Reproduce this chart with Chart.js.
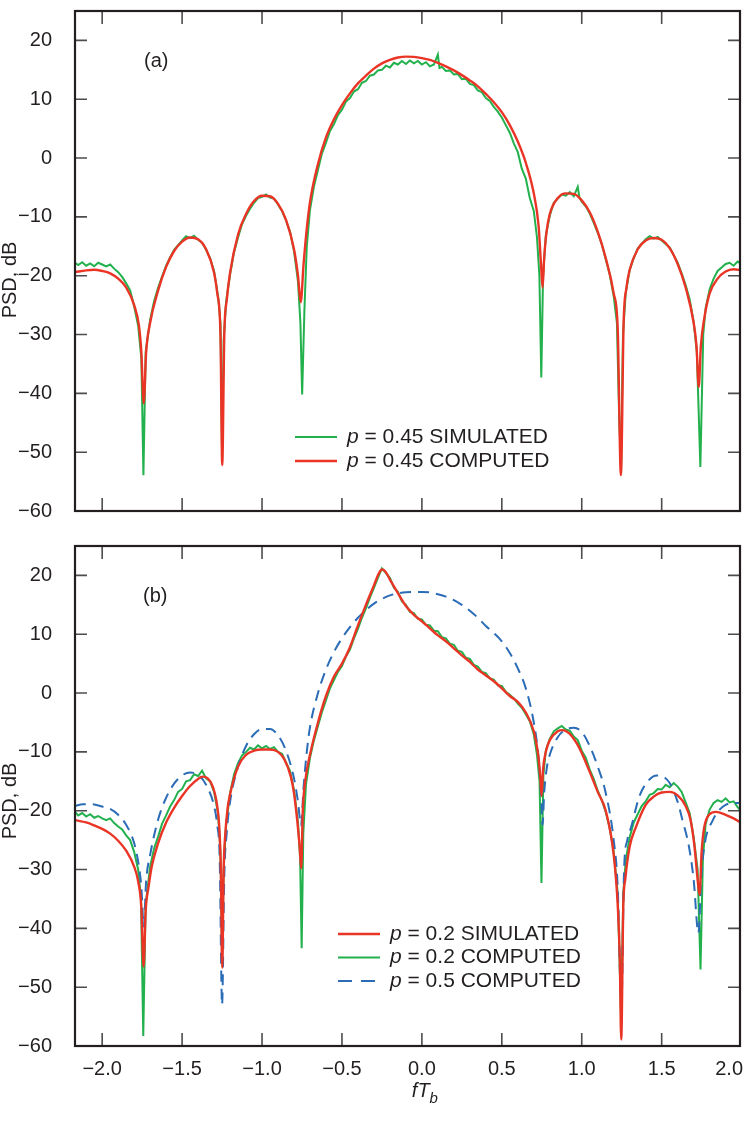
<!DOCTYPE html>
<html lang="en">
<head>
<meta charset="UTF-8" />
<title>PSD comparison</title>
<script src="https://cdn.jsdelivr.net/npm/chart.js@4.4.1/dist/chart.umd.min.js"></script>
<style>
  body { margin: 0; background: #fff; width: 744px; height: 1123px; position: relative; overflow: hidden; }
  canvas { position: absolute; left: 0; }
  #panelA { top: 0; width: 744px; height: 530px; }
  #panelB { top: 530px; width: 744px; height: 593px; }
</style>
</head>
<body>
<canvas id="panelA" width="744" height="530"></canvas>
<canvas id="panelB" width="744" height="593"></canvas>
<script>
// axis ranges and tick values
const xRange = [-2.17, 1.99];
const yRange = [-60, 25];
const xTickValues = [-2, -1.5, -1, -0.5, 0, 0.5, 1, 1.5, 2];
const yTickValues = [-60, -50, -40, -30, -20, -10, 0, 10, 20];

// (a) p = 0.45, [fTb, dB]
const simA = [
  [-2.17,-17.8],[-2.15,-18.2],[-2.125,-17.7],[-2.1,-18.3],[-2.075,-17.9],[-2.05,-18.4],[-2.025,-17.8],
  [-2.0,-18.1],[-1.975,-18.4],[-1.95,-18.1],[-1.925,-18.8],[-1.9,-19.4],[-1.875,-20.2],[-1.85,-21.3],
  [-1.825,-22.5],[-1.8,-25.2],[-1.775,-28.5],[-1.755,-34],[-1.742,-53.9],[-1.728,-33],[-1.7,-27.5],
  [-1.675,-24.3],[-1.65,-22.0],[-1.625,-20.1],[-1.6,-18.3],[-1.575,-16.9],[-1.55,-15.6],[-1.525,-14.8],
  [-1.5,-14.0],[-1.475,-13.3],[-1.45,-13.6],[-1.425,-13.2],[-1.4,-13.9],[-1.375,-14.4],[-1.35,-15.6],
  [-1.325,-17.0],[-1.3,-19.2],[-1.275,-23.5],[-1.26,-28],[-1.25,-50],[-1.24,-31],[-1.225,-24.5],
  [-1.2,-19.8],[-1.175,-16.0],[-1.15,-13.5],[-1.125,-11.2],[-1.1,-9.8],[-1.075,-8.6],[-1.05,-7.6],
  [-1.025,-6.8],[-1.0,-6.6],[-0.975,-6.2],[-0.95,-6.7],[-0.925,-6.9],[-0.9,-7.9],[-0.875,-9.0],
  [-0.85,-10.6],[-0.825,-12.5],[-0.8,-15.8],[-0.775,-21],[-0.76,-28],[-0.749,-40.2],[-0.735,-26],
  [-0.72,-15],[-0.7,-8.8],[-0.675,-4.8],[-0.65,-2.0],[-0.625,0.8],[-0.6,2.6],[-0.575,4.6],[-0.55,5.8],
  [-0.525,7.3],[-0.5,8.2],[-0.475,9.6],[-0.45,10.2],[-0.425,11.3],[-0.4,11.7],[-0.375,12.8],[-0.35,13.1],
  [-0.325,14.0],[-0.3,14.2],[-0.275,14.9],[-0.25,15.0],[-0.225,15.7],[-0.2,15.4],[-0.175,16.2],
  [-0.15,15.9],[-0.125,16.5],[-0.1,16.0],[-0.075,16.6],[-0.05,16.1],[-0.025,16.5],[0,15.9],[0.025,16.3],
  [0.05,15.6],[0.075,15.9],[0.1,17.6],[0.11,15.3],[0.125,15.5],[0.15,14.8],[0.175,14.9],[0.2,14.2],
  [0.225,14.3],[0.25,13.4],[0.275,13.5],[0.3,12.6],[0.325,12.4],[0.35,11.5],[0.375,11.2],[0.4,10.2],
  [0.425,9.7],[0.45,8.7],[0.475,7.9],[0.5,6.9],[0.525,5.6],[0.55,4.3],[0.575,2.5],[0.6,1.0],
  [0.625,-1.8],[0.65,-3.5],[0.675,-6.8],[0.7,-9.0],[0.72,-13.5],[0.735,-20],[0.747,-37.3],[0.758,-20],
  [0.775,-13.2],[0.8,-9.8],[0.825,-7.6],[0.85,-6.9],[0.875,-6.2],[0.9,-6.4],[0.925,-5.8],[0.95,-6.5],
  [0.975,-4.9],[0.985,-6.6],[1.0,-7.4],[1.025,-8.2],[1.05,-9.4],[1.075,-11.0],[1.1,-12.7],[1.125,-14.6],
  [1.15,-17.2],[1.175,-19.8],[1.2,-23.5],[1.22,-28],[1.235,-45],[1.246,-52],[1.258,-30],[1.275,-23],
  [1.3,-19.0],[1.325,-17.0],[1.35,-15.4],[1.375,-14.6],[1.4,-13.8],[1.425,-13.3],[1.45,-13.7],
  [1.475,-13.4],[1.5,-14.0],[1.525,-14.6],[1.55,-15.2],[1.575,-16.5],[1.6,-17.8],[1.625,-19.6],
  [1.65,-21.6],[1.675,-24.0],[1.7,-27.8],[1.72,-33],[1.742,-52.5],[1.76,-30],[1.775,-25.5],[1.8,-22.3],
  [1.825,-20.5],[1.85,-19.2],[1.875,-18.6],[1.9,-18.0],[1.925,-17.8],[1.95,-18.3],[1.975,-17.6],[2.0,-18.0]
];
const compA = [
  [-2.17,-19.4],[-2.1,-19.1],[-2.05,-19.0],[-2.0,-19.2],[-1.95,-19.6],[-1.9,-20.5],[-1.85,-22.0],
  [-1.8,-25.0],[-1.77,-28.5],[-1.755,-33],[-1.74,-41.7],[-1.725,-33],[-1.7,-28],[-1.65,-22.5],
  [-1.6,-18.5],[-1.55,-15.8],[-1.5,-14.2],[-1.45,-13.5],[-1.4,-13.8],[-1.35,-15.5],[-1.3,-19.5],
  [-1.28,-23],[-1.26,-30],[-1.249,-52.2],[-1.236,-30],[-1.22,-24],[-1.2,-19.5],[-1.15,-13],[-1.1,-9.5],
  [-1.05,-7.3],[-1.0,-6.4],[-0.95,-6.5],[-0.9,-7.8],[-0.85,-10.5],[-0.8,-15.5],[-0.775,-20],
  [-0.758,-24.5],[-0.74,-18],[-0.72,-12],[-0.7,-7.5],[-0.65,-1],[-0.6,3.5],[-0.55,6.6],[-0.5,9],
  [-0.45,11],[-0.4,12.7],[-0.35,14],[-0.3,15.2],[-0.25,16.1],[-0.2,16.7],[-0.15,17.1],[-0.1,17.25],
  [-0.05,17.2],[0,17.0],[0.05,16.7],[0.1,16.2],[0.15,15.6],[0.2,14.9],[0.25,14.1],[0.3,13.2],
  [0.35,12.2],[0.4,10.9],[0.45,9.5],[0.5,7.8],[0.55,5.6],[0.6,2.8],[0.65,-0.8],[0.7,-6],[0.73,-11.5],
  [0.745,-18],[0.755,-22],[0.765,-17],[0.78,-12.5],[0.8,-9.5],[0.85,-6.8],[0.9,-6.0],[0.95,-6.1],
  [1.0,-7.2],[1.05,-9.2],[1.1,-12.5],[1.15,-17],[1.2,-23],[1.225,-29],[1.245,-53.9],[1.262,-28],
  [1.28,-22],[1.3,-19],[1.35,-15.5],[1.4,-14.0],[1.45,-13.6],[1.5,-13.9],[1.55,-15.3],[1.6,-18],
  [1.65,-22],[1.7,-28],[1.718,-32],[1.732,-38.9],[1.745,-32],[1.765,-27.5],[1.8,-23],[1.85,-20.5],
  [1.9,-19.3],[1.95,-18.9],[2.0,-19.1]
];

// (b) p = 0.2 and p = 0.5
const simB = [
  [-2.17,-21.6],[-2.1,-22.0],[-2.05,-22.5],[-2.0,-23.1],[-1.95,-23.9],[-1.9,-25.1],[-1.85,-26.8],
  [-1.8,-29.5],[-1.775,-32],[-1.755,-36.5],[-1.741,-46.5],[-1.728,-37],[-1.71,-33],[-1.69,-29.5],
  [-1.65,-25.5],[-1.6,-22],[-1.55,-19.5],[-1.5,-17.5],[-1.45,-15.8],[-1.4,-14.6],[-1.37,-14.2],
  [-1.34,-14.5],[-1.31,-15.8],[-1.28,-19.3],[-1.265,-24],[-1.257,-31],[-1.249,-46.7],[-1.24,-30],
  [-1.23,-24],[-1.215,-19.5],[-1.2,-17.2],[-1.15,-12.5],[-1.1,-10.5],[-1.05,-9.8],[-1.0,-9.6],
  [-0.95,-9.6],[-0.9,-10.0],[-0.86,-11.3],[-0.82,-14.2],[-0.8,-17],[-0.78,-21.6],[-0.765,-26],
  [-0.755,-29.8],[-0.745,-20],[-0.73,-15],[-0.7,-10.5],[-0.65,-5],[-0.6,-0.5],[-0.55,2.8],[-0.5,5.0],
  [-0.45,7.8],[-0.4,11.5],[-0.35,15],[-0.3,18.3],[-0.27,20.3],[-0.25,21.0],[-0.23,20.7],[-0.2,19.3],
  [-0.15,17],[-0.1,14.8],[-0.05,13.3],[0,12.2],[0.05,11.0],[0.1,9.8],[0.15,8.8],[0.2,7.6],[0.25,6.4],
  [0.3,5.3],[0.35,4.0],[0.4,3.0],[0.45,2.0],[0.5,0.8],[0.55,-0.5],[0.6,-1.5],[0.65,-3.3],[0.7,-6.5],
  [0.725,-10],[0.74,-14],[0.749,-17.5],[0.758,-13],[0.775,-10],[0.8,-8],[0.85,-6.5],[0.88,-6.3],
  [0.92,-6.8],[0.97,-8.6],[1.0,-10.2],[1.05,-13.4],[1.1,-16.8],[1.15,-20],[1.2,-27.5],[1.225,-36],
  [1.238,-45],[1.247,-58.9],[1.26,-36],[1.272,-31.7],[1.3,-26.1],[1.34,-22.7],[1.4,-19.0],
  [1.45,-17.6],[1.5,-16.9],[1.55,-16.8],[1.6,-17.4],[1.65,-19.2],[1.68,-21.5],[1.705,-26],
  [1.725,-31.7],[1.737,-34.3],[1.75,-27],[1.765,-23],[1.8,-20.6],[1.84,-20.2],[1.9,-20.7],
  [1.95,-21.3],[2.0,-22.1]
];
const compB = [
  [-2.17,-20.2],[-2.15,-20.8],[-2.125,-20.4],[-2.1,-21.0],[-2.075,-20.6],[-2.05,-21.2],[-2.025,-20.9],
  [-2.0,-21.3],[-1.975,-21.6],[-1.95,-21.3],[-1.925,-22.1],[-1.9,-22.7],[-1.875,-23.2],[-1.85,-24.2],
  [-1.825,-25.0],[-1.8,-27.0],[-1.775,-30.0],[-1.757,-35],[-1.743,-58.3],[-1.728,-36],[-1.7,-29.5],
  [-1.675,-26.4],[-1.65,-24.4],[-1.625,-22.2],[-1.6,-20.8],[-1.575,-19.3],[-1.55,-18.2],[-1.525,-16.8],
  [-1.5,-16.3],[-1.475,-15.0],[-1.45,-14.8],[-1.425,-13.8],[-1.4,-14.1],[-1.375,-13.2],[-1.35,-14.5],
  [-1.325,-15.0],[-1.3,-16.8],[-1.275,-20.5],[-1.26,-27],[-1.25,-45],[-1.24,-30],[-1.225,-22.5],
  [-1.2,-17.0],[-1.175,-13.8],[-1.15,-11.9],[-1.125,-10.6],[-1.1,-10.0],[-1.075,-9.3],[-1.05,-9.6],
  [-1.025,-8.9],[-1.0,-9.4],[-0.975,-9.0],[-0.95,-9.5],[-0.925,-9.2],[-0.9,-10.0],[-0.875,-10.3],
  [-0.85,-11.8],[-0.825,-13.2],[-0.8,-16.5],[-0.775,-22],[-0.762,-28],[-0.752,-43.4],[-0.742,-24],
  [-0.725,-15.5],[-0.7,-11.0],[-0.675,-8.0],[-0.65,-5.6],[-0.625,-3.2],[-0.6,-1.2],[-0.575,0.8],
  [-0.55,2.2],[-0.525,3.6],[-0.5,4.6],[-0.475,6.2],[-0.45,7.4],[-0.425,9.3],[-0.4,10.9],[-0.375,12.8],
  [-0.35,14.4],[-0.325,16.2],[-0.3,17.9],[-0.275,19.6],[-0.25,21.2],[-0.225,20.4],[-0.2,19.6],
  [-0.175,17.9],[-0.15,17.2],[-0.125,15.6],[-0.1,15.0],[-0.075,13.8],[-0.05,13.6],[-0.025,12.6],
  [0,12.5],[0.025,11.6],[0.05,11.5],[0.075,10.6],[0.1,10.5],[0.125,9.5],[0.15,9.3],[0.175,8.4],
  [0.2,8.2],[0.225,7.2],[0.25,7.0],[0.275,6.0],[0.3,5.8],[0.325,4.8],[0.35,4.5],[0.375,3.6],[0.4,3.4],
  [0.425,2.5],[0.45,2.3],[0.475,1.3],[0.5,1.2],[0.525,0.2],[0.55,-0.3],[0.575,-0.9],[0.6,-1.8],
  [0.625,-2.5],[0.65,-3.6],[0.675,-4.8],[0.7,-7.0],[0.72,-10.5],[0.736,-15],[0.748,-32.3],[0.76,-14],
  [0.775,-9.8],[0.8,-7.8],[0.825,-6.5],[0.85,-6.0],[0.875,-5.6],[0.9,-6.2],[0.925,-6.4],[0.95,-7.4],
  [0.975,-8.0],[1.0,-9.8],[1.025,-11.0],[1.05,-13.0],[1.075,-14.6],[1.1,-16.6],[1.125,-18.2],
  [1.15,-20.2],[1.175,-23],[1.2,-27],[1.225,-34],[1.246,-55],[1.26,-34],[1.275,-28.5],[1.3,-24.5],
  [1.325,-22.0],[1.35,-20.6],[1.375,-19.2],[1.4,-18.4],[1.425,-17.3],[1.45,-17.0],[1.475,-16.3],
  [1.5,-16.4],[1.525,-15.6],[1.55,-16.0],[1.575,-15.3],[1.6,-15.9],[1.625,-16.8],[1.65,-18.6],
  [1.675,-20.4],[1.7,-24.5],[1.725,-30],[1.743,-47],[1.758,-28],[1.775,-22.3],[1.8,-19.8],[1.825,-18.7],
  [1.85,-18.2],[1.875,-18.5],[1.9,-17.9],[1.925,-18.6],[1.95,-18.4],[1.975,-19.4],[2.0,-20.2]
];
const comp05 = [
  [-2.17,-19.2],[-2.12,-18.9],[-2.06,-18.9],[-2.0,-19.3],[-1.95,-19.7],[-1.9,-20.7],[-1.85,-22.4],
  [-1.8,-25.5],[-1.77,-29.5],[-1.755,-33],[-1.74,-39.7],[-1.725,-32],[-1.7,-27.5],[-1.65,-21.5],
  [-1.6,-17.8],[-1.55,-15.4],[-1.5,-14.0],[-1.45,-13.5],[-1.4,-13.9],[-1.35,-15.6],[-1.3,-19.2],
  [-1.28,-22.5],[-1.265,-28],[-1.25,-53],[-1.236,-31],[-1.22,-23.5],[-1.2,-18.5],[-1.15,-12.5],
  [-1.1,-9.0],[-1.05,-7.0],[-1.0,-6.1],[-0.95,-6.1],[-0.9,-7.2],[-0.85,-9.8],[-0.8,-14.5],
  [-0.775,-18.5],[-0.756,-22.5],[-0.74,-16],[-0.72,-10],[-0.7,-5.8],[-0.65,0],[-0.6,4],[-0.55,7],
  [-0.5,9.3],[-0.45,11.2],[-0.4,12.8],[-0.35,14.1],[-0.3,15.2],[-0.25,16.0],[-0.2,16.6],[-0.15,16.95],
  [-0.1,17.15],[-0.05,17.2],[0,17.2],[0.05,17.1],[0.1,16.8],[0.15,16.4],[0.2,15.8],[0.25,15.0],
  [0.3,14.0],[0.35,12.8],[0.4,11.4],[0.45,10.2],[0.5,8.8],[0.55,6.8],[0.6,4.2],[0.65,0.8],[0.7,-5],
  [0.73,-11],[0.745,-17],[0.755,-22.4],[0.765,-17],[0.78,-13],[0.8,-10.5],[0.85,-7.5],[0.9,-6.2],
  [0.95,-5.9],[1.0,-6.6],[1.05,-9.0],[1.1,-12.5],[1.15,-17],[1.2,-25],[1.225,-33],[1.248,-53],
  [1.265,-30],[1.285,-25],[1.31,-22.7],[1.36,-17.6],[1.42,-14.8],[1.47,-14.0],[1.52,-14.4],
  [1.55,-15.3],[1.6,-18.5],[1.63,-21.6],[1.67,-26],[1.7,-31.7],[1.73,-40.8],[1.748,-31],[1.77,-25.5],
  [1.82,-21.6],[1.86,-19.9],[1.9,-19.0],[1.95,-18.7],[2.0,-18.7]
];

const textColor = '#231f20';
const fontFamily = '"Liberation Sans", Arial, Helvetica, sans-serif';
const toXY = arr => arr.map(p => ({ x: p[0], y: p[1] }));
const minus = s => s.replace('-', '\u2212');

// border + inward tick marks on all four sides, x tick labels kept inside the page
const framePlugin = {
  id: 'frame',
  afterDraw(chart, args, opts) {
    const { ctx, chartArea: a, scales: { x, y } } = chart;
    ctx.save();
    ctx.strokeStyle = '#4d4d4f';
    ctx.lineWidth = 1.6;
    ctx.beginPath();
    xTickValues.forEach(v => {
      const px = x.getPixelForValue(v);
      if (px <= a.left + 2 || px >= a.right - 2) return;
      ctx.moveTo(px, a.bottom); ctx.lineTo(px, a.bottom - 13);
      ctx.moveTo(px, a.top); ctx.lineTo(px, a.top + 13);
    });
    yTickValues.forEach(v => {
      const py = y.getPixelForValue(v);
      if (py <= a.top + 2 || py >= a.bottom - 2) return;
      ctx.moveTo(a.left, py); ctx.lineTo(a.left + 12, py);
      ctx.moveTo(a.right, py); ctx.lineTo(a.right - 12, py);
    });
    ctx.stroke();
    ctx.strokeStyle = textColor;
    ctx.lineWidth = 2.2;
    ctx.strokeRect(a.left, a.top, a.right - a.left, a.bottom - a.top);

    if (opts.xLabels) {
      ctx.fillStyle = textColor;
      ctx.font = '20px ' + fontFamily;
      ctx.textBaseline = 'middle';
      ctx.textAlign = 'left';
      xTickValues.forEach(v => {
        const txt = minus(v.toFixed(1));
        const w = ctx.measureText(txt).width;
        const left = Math.min(x.getPixelForValue(v) - w / 2, chart.width - w - 1);
        ctx.fillText(txt, left, a.bottom + 23);
      });
    }
    ctx.restore();
  }
};

// legend with italic "p", panel tag, axis titles
const notesPlugin = {
  id: 'notes',
  afterDraw(chart, args, opts) {
    const ctx = chart.ctx;
    ctx.save();
    ctx.fillStyle = textColor;
    ctx.textBaseline = 'middle';
    ctx.font = '20px ' + fontFamily;
    ctx.fillText(opts.tag, opts.tagX, opts.tagY);

    ctx.save();
    ctx.translate(10, opts.yTitleY);
    ctx.rotate(-Math.PI / 2);
    ctx.textAlign = 'center';
    ctx.fillText('PSD, dB', 0, 0);
    ctx.restore();

    opts.legend.forEach((idx, row) => {
      const ds = chart.data.datasets[idx];
      const yy = opts.legY + row * opts.legDy;
      ctx.strokeStyle = ds.borderColor;
      ctx.lineWidth = ds.borderWidth;
      ctx.setLineDash(ds.borderDash ? [14, 9] : []);
      ctx.beginPath();
      ctx.moveTo(opts.legX, yy);
      ctx.lineTo(opts.legX + 42, yy);
      ctx.stroke();
      ctx.setLineDash([]);
      let tx = opts.legX + 52;
      ctx.font = 'italic 21px ' + fontFamily;
      ctx.fillText(ds.label[0], tx, yy);
      tx += ctx.measureText(ds.label[0]).width;
      ctx.font = '21px ' + fontFamily;
      ctx.fillText(ds.label.slice(1), tx, yy);
    });
    if (opts.xTitle) {
      const cx = chart.scales.x.getPixelForValue(0) + 3;
      ctx.textBaseline = 'alphabetic';
      ctx.font = 'italic 20px ' + fontFamily;
      const w1 = ctx.measureText('fT').width;
      ctx.font = 'italic 15px ' + fontFamily;
      const w2 = ctx.measureText('b').width;
      const x0 = cx - (w1 + w2) / 2;
      ctx.font = 'italic 20px ' + fontFamily;
      ctx.fillText('fT', x0, opts.xTitleY);
      ctx.font = 'italic 15px ' + fontFamily;
      ctx.fillText('b', x0 + w1, opts.xTitleY + 6);
    }
    ctx.restore();
  }
};

function makePanel(id, datasets, cfg) {
  return new Chart(document.getElementById(id), {
    type: 'line',
    data: { datasets },
    options: {
      responsive: false,
      animation: false,
      devicePixelRatio: 1,
      layout: { padding: { top: cfg.padTop, right: 4, left: 0, bottom: 0 } },
      elements: { point: { radius: 0 }, line: { tension: 0 } },
      scales: {
        x: {
          type: 'linear', min: xRange[0], max: xRange[1],
          grid: { display: false }, border: { display: false },
          afterBuildTicks: s => { s.ticks = xTickValues.map(v => ({ value: v })); },
          afterFit: s => { s.height = cfg.xHeight; s.paddingLeft = 0; s.paddingRight = 0; },
          ticks: { display: false }
        },
        y: {
          min: yRange[0], max: yRange[1],
          grid: { display: false }, border: { display: false },
          afterBuildTicks: s => { s.ticks = yTickValues.map(v => ({ value: v })); },
          afterFit: s => { s.width = 75; s.paddingTop = 0; s.paddingBottom = 0; },
          ticks: {
            padding: 15, color: textColor,
            font: { family: fontFamily, size: 20 },
            callback: v => minus(String(v))
          }
        }
      },
      plugins: {
        legend: { display: false },
        tooltip: { enabled: false },
        frame: { xLabels: cfg.xLabels },
        notes: cfg.notes
      }
    },
    plugins: [framePlugin, notesPlugin]
  });
}

const red = '#ea3526', green = '#22b14c', blue = '#2b6cb6';

makePanel('panelA', [
  { label: 'p = 0.45 SIMULATED', data: toXY(simA), borderColor: green, borderWidth: 2, order: 1 },
  { label: 'p = 0.45 COMPUTED', data: toXY(compA), borderColor: red, borderWidth: 2.4, order: 0,
    cubicInterpolationMode: 'monotone' }
], {
  padTop: 11, xHeight: 19, xLabels: false,
  notes: { tag: '(a)', tagX: 144, tagY: 61, yTitleY: 280, legend: [0, 1], legX: 295, legY: 437, legDy: 24 }
});

makePanel('panelB', [
  { label: 'p = 0.2 SIMULATED', data: toXY(simB), borderColor: red, borderWidth: 2.4, order: 0,
    cubicInterpolationMode: 'monotone' },
  { label: 'p = 0.2 COMPUTED', data: toXY(compB), borderColor: green, borderWidth: 2, order: 2 },
  { label: 'p = 0.5 COMPUTED', data: toXY(comp05), borderColor: blue, borderWidth: 2, borderDash: [11, 7],
    order: 1, cubicInterpolationMode: 'monotone' }
], {
  padTop: 16, xHeight: 77, xLabels: true,
  notes: { tag: '(b)', tagX: 143, tagY: 66, yTitleY: 271, legend: [0, 1, 2], legX: 338, legY: 404,
           legDy: 23.5, xTitle: true, xTitleY: 567 }
});
</script>
</body>
</html>
